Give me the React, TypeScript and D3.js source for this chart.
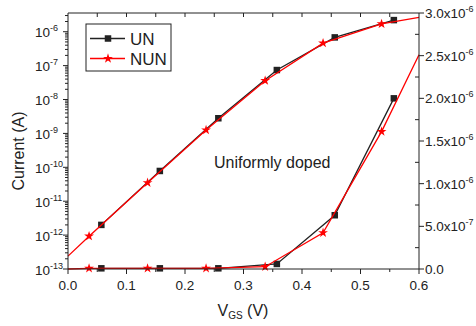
import React from "react";
import * as d3 from "d3";

// UN (uniform) device, black squares
const unV = [0.057, 0.157, 0.257, 0.357, 0.456, 0.557];
const unLog = [2.0e-12, 7.8e-11, 2.8e-9, 7.4e-8, 6.8e-7, 2.2e-6];
const unLin = [8e-9, 8e-9, 8e-9, 5.9e-8, 6.3e-7, 2.0e-6];

// NUN device, red stars (first and last points carry no marker)
const nunV = [0, 0.036, 0.136, 0.236, 0.337, 0.436, 0.536, 0.6];
const nunLog = [2.4e-13, 9.3e-13, 3.5e-11, 1.26e-9, 3.6e-8, 4.6e-7, 1.7e-6, 2.66e-6];
const nunLin = [0, 8e-9, 8e-9, 8e-9, 2.7e-8, 4.25e-7, 1.61e-6, 2.51e-6];

const xTicks = [0, 0.1, 0.2, 0.3, 0.4, 0.5, 0.6];
const logExps = [-13, -12, -11, -10, -9, -8, -7, -6];
const linTicks = [0, 5e-7, 1e-6, 1.5e-6, 2e-6, 2.5e-6, 3e-6];
const linLabels = ["0.0", "5.0x10", "1.0x10", "1.5x10", "2.0x10", "2.5x10", "3.0x10"];
const linExps = ["", "-7", "-6", "-6", "-6", "-6", "-6"];

const W = 476;
const H = 326;
const margin = { top: 13, right: 57, bottom: 57, left: 68 };
const FONT = "'Liberation Sans', Arial, sans-serif";
const INK = "#222";

export default function App() {
  const x = d3.scaleLinear().domain([0, 0.6]).range([margin.left, W - margin.right]);
  const yLog = d3.scaleLog().domain([1e-13, Math.pow(10, -5.448)]).range([H - margin.bottom, margin.top]);
  const yLin = d3.scaleLinear().domain([0, 3e-6]).range([H - margin.bottom, margin.top]);

  const x0 = margin.left;
  const x1 = W - margin.right;
  const y0 = H - margin.bottom;
  const y1 = margin.top;

  const lineOf = (vs: number[], ys: number[], sc: (v: number) => number) =>
    d3.line<number>()
      .x((_, i) => x(vs[i]))
      .y((d) => sc(d))(ys) || "";

  const star = d3.symbol().type(d3.symbolStar).size(30)() || "";
  const sq = 6.5;

  const minorX = d3.range(0.05, 0.6, 0.1);
  const topTicks = d3.range(0.05, 0.6, 0.05).map((v) => Math.round(v * 100) / 100);
  const minorLog: number[] = [];
  logExps.forEach((e) => {
    for (let k = 2; k <= 9; k++) {
      const v = k * Math.pow(10, e);
      if (v < yLog.domain()[1]) minorLog.push(v);
    }
  });
  const minorLin = d3.range(2.5e-7, 3e-6, 5e-7);

  return (
    <div style={{ position: "fixed", left: 0, top: 0 }}>
      <svg width={W} height={H} style={{ display: "block", background: "#fff" }} fontFamily={FONT}>
        {/* series lines */}
        <path d={lineOf(unV, unLog, yLog)} fill="none" stroke={INK} strokeWidth={1.3} />
        <path d={lineOf(unV, unLin, yLin)} fill="none" stroke={INK} strokeWidth={1.3} />
        {unV.map((v, i) => (
          <g key={"un" + i}>
            <rect x={x(v) - sq / 2} y={yLog(unLog[i]) - sq / 2} width={sq} height={sq} fill={INK} />
            <rect x={x(v) - sq / 2} y={yLin(unLin[i]) - sq / 2} width={sq} height={sq} fill={INK} />
          </g>
        ))}
        <path d={lineOf(nunV, nunLog, yLog)} fill="none" stroke="#ff0000" strokeWidth={1.3} />
        <path d={lineOf(nunV, nunLin, yLin)} fill="none" stroke="#ff0000" strokeWidth={1.3} />
        {nunV.map((v, i) =>
          i === 0 || i === nunV.length - 1 ? null : (
            <g key={"nun" + i}>
              <path d={star} transform={`translate(${x(v)},${yLog(nunLog[i])})`} fill="#ff0000" />
              <path d={star} transform={`translate(${x(v)},${yLin(nunLin[i])})`} fill="#ff0000" />
            </g>
          )
        )}

        {/* frame */}
        <g stroke={INK} strokeWidth={1} fill="none">
          <line x1={x0} x2={x1} y1={y0} y2={y0} />
          <line x1={x0} x2={x1} y1={y1} y2={y1} />
          <line x1={x0} x2={x0} y1={y0} y2={y1} />
          <line x1={x1} x2={x1} y1={y0} y2={y1} />
          {xTicks.map((t) => (
            <line key={"xt" + t} x1={x(t)} x2={x(t)} y1={y0} y2={y0 + 5} />
          ))}
          {minorX.map((t) => (
            <line key={"xm" + t} x1={x(t)} x2={x(t)} y1={y0} y2={y0 + 3} />
          ))}
          {topTicks.map((t) => (
            <line key={"tt" + t} x1={x(t)} x2={x(t)} y1={y1} y2={y1 + 4} />
          ))}
          {logExps.map((e) => (
            <line key={"lt" + e} x1={x0 - 5} x2={x0} y1={yLog(Math.pow(10, e))} y2={yLog(Math.pow(10, e))} />
          ))}
          {minorLog.map((v, i) => (
            <line key={"lm" + i} x1={x0 - 3} x2={x0} y1={yLog(v)} y2={yLog(v)} />
          ))}
          {linTicks.map((t) => (
            <line key={"rt" + t} x1={x1} x2={x1 + 5} y1={yLin(t)} y2={yLin(t)} />
          ))}
          {minorLin.map((t, i) => (
            <line key={"rm" + i} x1={x1 - 4} x2={x1} y1={yLin(t)} y2={yLin(t)} />
          ))}
        </g>

        {/* bottom tick labels */}
        {xTicks.map((t) => (
          <text key={"xl" + t} x={x(t)} y={y0 + 21} textAnchor="middle" fontSize={13.5} fill={INK}>
            {t.toFixed(1)}
          </text>
        ))}
        {/* left log labels */}
        {logExps.map((e) => (
          <text key={"ll" + e} x={35} y={yLog(Math.pow(10, e)) + 5.5} fontSize={13.5} fill={INK}>
            10
            <tspan fontSize={9} dy={-6}>{e}</tspan>
          </text>
        ))}
        {/* right linear labels */}
        {linTicks.map((t, i) => (
          <text key={"rl" + t} x={x1 + 6} y={yLin(t) + 5} fontSize={13.5} fill={INK}>
            {linLabels[i]}
            {linExps[i] && <tspan fontSize={9} dy={-6}>{linExps[i]}</tspan>}
          </text>
        ))}

        {/* axis titles */}
        <text x={243} y={316} textAnchor="middle" fontSize={16} fill={INK}>
          V<tspan fontSize={10} dy={3}>GS</tspan>
          <tspan dy={-3}> (V)</tspan>
        </text>
        <text transform="translate(24,151) rotate(-90)" textAnchor="middle" fontSize={16} fill={INK}>
          Current (A)
        </text>
        <text x={214} y={168} fontSize={16} fill={INK}>
          Uniformly doped
        </text>

        {/* legend */}
        <rect x={86} y={24} width={85} height={47} fill="#fff" stroke={INK} strokeWidth={1} />
        <line x1={90} x2={125} y1={38.5} y2={38.5} stroke={INK} strokeWidth={1.3} />
        <rect x={108 - sq / 2} y={38.5 - sq / 2} width={sq} height={sq} fill={INK} />
        <text x={130} y={44.5} fontSize={17} fill={INK}>UN</text>
        <line x1={90} x2={125} y1={58.5} y2={58.5} stroke="#ff0000" strokeWidth={1.3} />
        <path d={star} transform="translate(108,58.5)" fill="#ff0000" />
        <text x={130} y={64.5} fontSize={17} fill={INK}>NUN</text>
      </svg>
    </div>
  );
}
